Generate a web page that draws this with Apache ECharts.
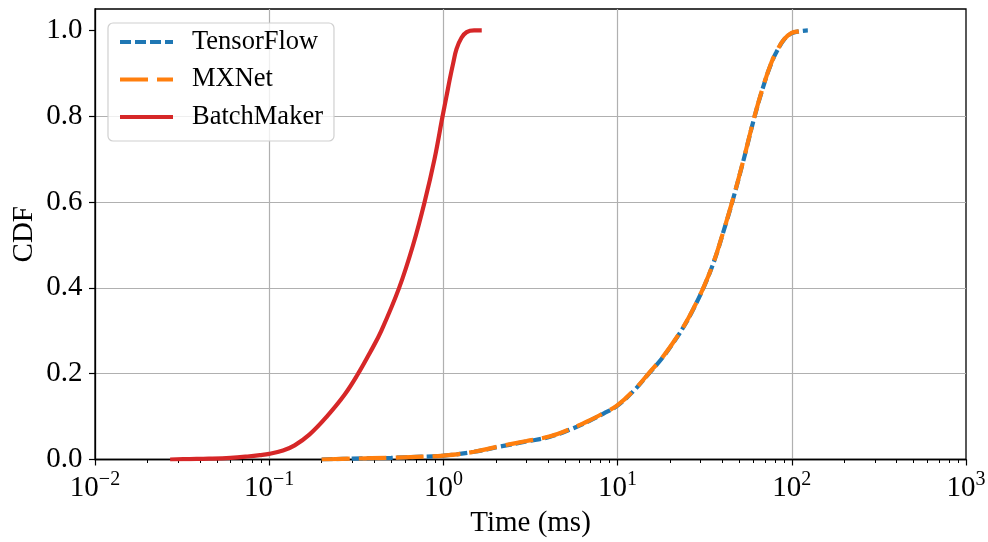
<!DOCTYPE html>
<html>
<head>
<meta charset="utf-8">
<script src="https://cdn.jsdelivr.net/npm/echarts@6/dist/echarts.min.js"></script>
<style>
  html, body { margin: 0; padding: 0; background: #fff; }
  #chart { width: 988px; height: 542px; }
</style>
</head>
<body>
<div id="chart"></div>
<script>
// values (x in ms, y = CDF)
var tfX = [0.2, 0.3, 0.5, 0.7, 1.0, 1.5, 2.11, 3.0, 4.1, 5.5, 6.9, 8.3, 9.95, 12.5, 15.1, 18, 20.8, 24, 27.1, 31.5, 36, 40.3, 45.5, 53, 61.2, 69.8, 76, 81.5, 90, 99.3, 110, 123.6]
var tfY = [0, 0.002, 0.004, 0.006, 0.009, 0.018, 0.03, 0.042, 0.053, 0.072, 0.09, 0.107, 0.125, 0.162, 0.2, 0.236, 0.271, 0.31, 0.349, 0.405, 0.465, 0.528, 0.6, 0.7, 0.8, 0.879, 0.922, 0.949, 0.978, 0.993, 0.998, 1.0]
var mxX = [0.2, 0.3, 0.5, 0.7, 1.0, 1.5, 2.11, 3.0, 4.1, 5.5, 6.9, 8.3, 9.95, 12.5, 15.1, 18, 20.8, 24, 27.1, 31.5, 36, 40.3, 45.5, 53, 61.2, 69.8, 76, 81.5, 90, 99.3, 110, 123.6]
var mxY = [0, 0.002, 0.004, 0.006, 0.009, 0.018, 0.031, 0.043, 0.054, 0.073, 0.091, 0.108, 0.126, 0.163, 0.201, 0.237, 0.272, 0.311, 0.35, 0.406, 0.466, 0.529, 0.601, 0.701, 0.801, 0.88, 0.923, 0.95, 0.979, 0.994, 0.998, 1.0]
var bmX = [0.027, 0.035, 0.045, 0.06, 0.075, 0.0885, 0.1, 0.12, 0.14, 0.17, 0.214, 0.272, 0.324, 0.38, 0.44, 0.557, 0.67, 0.78, 0.889, 0.989, 1.04, 1.089, 1.14, 1.19, 1.27, 1.36, 1.5, 1.66]
var bmY = [0, 0.001, 0.002, 0.004, 0.007, 0.01, 0.013, 0.021, 0.033, 0.058, 0.1, 0.152, 0.2, 0.25, 0.3, 0.4, 0.5, 0.6, 0.7, 0.8, 0.845, 0.887, 0.925, 0.957, 0.983, 0.996, 1.0, 1.0]

var seriesNames = ['TensorFlow', 'MXNet', 'BatchMaker']
var xMajorTicks = [0.01, 0.1, 1, 10, 100, 1000]
var yTicks = [0, 0.2, 0.4, 0.6, 0.8, 1.0]

function pairs(xs, ys) {
  return xs.map(function (x, i) { return [x, ys[i]] })
}

var xMinorTicks = []
for (var k = -2; k <= 2; k++) {
  for (var m = 2; m <= 9; m++) xMinorTicks.push(m * Math.pow(10, k))
}

var font = 'Liberation Serif'
var myChart = echarts.init(document.getElementById('chart'))
var option = {
  animation: false,
  textStyle: { fontFamily: font, color: '#000' },
  grid: {
    left: 95, right: 22, top: 9, bottom: 82.5,
    outerBoundsMode: 'none', containLabel: false,
    show: true, borderColor: '#000', borderWidth: 1.3, backgroundColor: 'transparent'
  },
  legend: {
    orient: 'vertical',
    left: 108, top: 23,
    padding: [4, 11, 9, 10],
    itemGap: 7.5,
    itemWidth: 53, itemHeight: 14,
    itemStyle: { opacity: 0 },
    lineStyle: { width: 4 },
    backgroundColor: 'rgba(255,255,255,0.8)',
    borderColor: '#d0d0d0', borderWidth: 1.2, borderRadius: 5,
    textStyle: { fontFamily: font, fontSize: 26.5, color: '#000', lineHeight: 30, padding: [0, 0, 0, 14] },
    data: seriesNames
  },
  xAxis: [{
    type: 'log', logBase: 10, min: 0.01, max: 1000, splitNumber: 5,
    name: 'Time (ms)', nameLocation: 'middle', nameGap: 49, nameMoveOverlap: false,
    nameTextStyle: { fontFamily: font, fontSize: 29, color: '#000' },
    axisLine: { show: true, onZero: false, lineStyle: { color: '#000', width: 1.3 } },
    axisTick: { show: true, inside: false, length: 6, customValues: xMajorTicks, lineStyle: { color: '#000', width: 1.2 } },
    axisLabel: {
      customValues: xMajorTicks, margin: 10.5,
      formatter: function (v) {
        var e = Math.round(Math.log10(v))
        return '{b|10}{s|' + (e < 0 ? '\u2212' + (-e) : e) + '}'
      },
      rich: {
        b: { fontFamily: font, fontSize: 29, color: '#000', lineHeight: 36 },
        s: { fontFamily: font, fontSize: 20, color: '#000', lineHeight: 9, verticalAlign: 'top' }
      }
    },
    splitLine: { show: true, showMinLine: false, showMaxLine: false, lineStyle: { color: '#b0b0b0', width: 1.2 } }
  }, {
    type: 'log', logBase: 10, min: 0.01, max: 1000, position: 'bottom', offset: 0,
    axisLine: { show: false },
    axisTick: { show: true, inside: false, length: 3.5, customValues: xMinorTicks, lineStyle: { color: '#000', width: 1 } },
    axisLabel: { show: false },
    splitLine: { show: false }
  }],
  yAxis: {
    type: 'value', min: 0, max: 1.05, interval: 0.2,
    name: 'CDF', nameLocation: 'middle', nameGap: 56, nameMoveOverlap: false,
    nameTextStyle: { fontFamily: font, fontSize: 29, color: '#000' },
    axisLine: { show: true, onZero: false, lineStyle: { color: '#000', width: 1.3 } },
    axisTick: { show: true, inside: false, length: 6, customValues: yTicks, lineStyle: { color: '#000', width: 1.2 } },
    axisLabel: {
      customValues: yTicks, margin: 12.5,
      fontFamily: font, fontSize: 29, color: '#000',
      formatter: function (v) { return v > 1.001 ? '' : v.toFixed(1) }
    },
    splitLine: { show: true, showMinLine: false, showMaxLine: false, lineStyle: { color: '#b0b0b0', width: 1.2 } }
  },
  series: [{
      name: 'TensorFlow', type: 'line', xAxisIndex: 0, showSymbol: false, symbol: 'none', smooth: 0.4,
      itemStyle: { color: '#1f77b4' },
      lineStyle: { color: '#1f77b4', width: 4.2, type: [11, 4] },
      data: pairs(tfX, tfY)
    },
    {
      name: 'MXNet', type: 'line', xAxisIndex: 0, showSymbol: false, symbol: 'none', smooth: 0.4,
      itemStyle: { color: '#ff7f0e' },
      lineStyle: { color: '#ff7f0e', width: 4.2, type: [28, 9] },
      data: pairs(mxX, mxY)
    },
    {
      name: 'BatchMaker', type: 'line', xAxisIndex: 0, showSymbol: false, symbol: 'none', smooth: 0.4,
      itemStyle: { color: '#d62728' },
      lineStyle: { color: '#d62728', width: 4.2 },
      data: pairs(bmX, bmY)
    }
  ]
}
myChart.setOption(option)
</script>
</body>
</html>
